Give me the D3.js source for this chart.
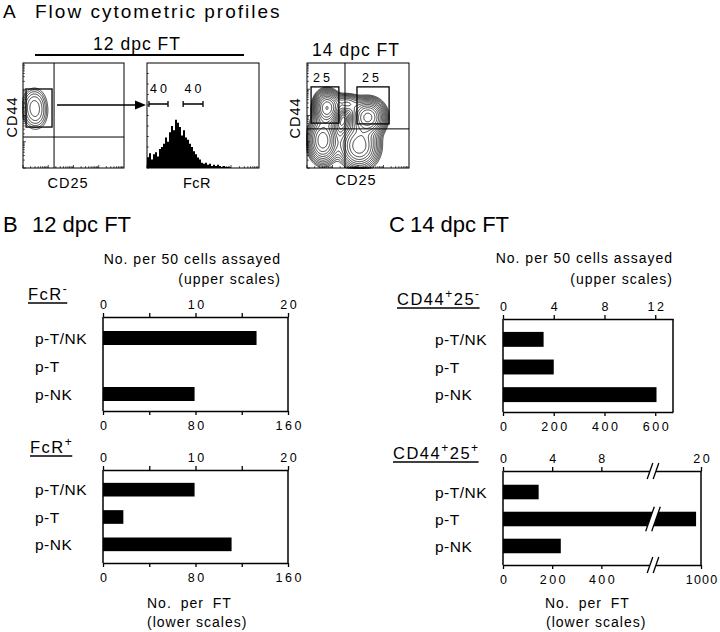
<!DOCTYPE html>
<html><head><meta charset="utf-8">
<script src="https://cdn.jsdelivr.net/npm/d3@7"></script>
<style>
body{margin:0;background:#fff;}
svg text{font-family:"Liberation Sans",Arial,Helvetica,sans-serif;fill:#000;}
</style></head><body>
<svg id="fig" width="720" height="632" xmlns="http://www.w3.org/2000/svg"></svg>
<script>
// ---------------- DATA ----------------
const categories = ["p-T/NK", "p-T", "p-NK"];
// values in "No. per 50 cells assayed" (upper scales)
const fcrNegValues = [16.6, 0, 9.9];
const fcrPosValues = [9.9, 2.2, 13.9];
const cd44p25nValues = [3.2, 4.0, 12.1];
const cd44p25pValues = [2.9, 19.2, 4.7];

const bUpperTicks = [0, 5, 10, 15, 20];
const bUpperLabels = [0, 10, 20];
const bLowerTicks = [0, 40, 80, 120, 160];
const bLowerLabels = [0, 80, 160];
const c1UpperTicks = [0, 4, 8, 12];
const c1LowerTicks = [0, 200, 400, 600];
const c2UpperTicks = [0, 4, 8, 20];
const c2LowerTicks = [0, 200, 400, 1000];
const c2BreakValue = 12.2;

// FcR histogram of CD44+25- cells at 12 dpc (56 bins over 4 log decades)
const fcrHistCounts = [10, 14, 8, 13, 15, 11, 18, 20, 23, 29, 25, 34, 40, 36, 46, 43,
  39, 31, 36, 29, 27, 23, 20, 16, 13, 10, 8, 5, 4, 5, 3, 4, 2, 3, 2, 3,
  2, 1, 2, 1, 1, 0.5, 0, 0, 0, 0, 0, 0, 0, 0, 0, 0, 0, 0, 0, 0];
const fcrGateBrackets = [[0.07, 0.75], [1.29, 2.0]];
const fcrGateLabels = ["40", "40"];

// contour populations (log decades, CD25 x, CD44 y)
const pop12x = [0.45, 0.5];
const pop12y = [2.38, 2.0];
const pop12sx = [0.23, 0.23];
const pop12sy = [0.31, 0.28];
const pop12w = [1, 0.5];
const gate12 = [[0.12, 1.15], [1.56, 3.01]];
const quad12 = [1.23, 1.18];

const pop14x = [0.78, 0.62, 2.39, 2.05, 1.55];
const pop14y = [2.29, 1.05, 1.94, 0.85, 2.45];
const pop14sx = [0.25, 0.3, 0.33, 0.4, 0.3];
const pop14sy = [0.32, 0.45, 0.33, 0.45, 0.2];
const pop14w = [1, 0.6, 1.1, 0.6, 0.3];
const gates14 = [[[0.16, 1.25], [1.71, 3.09]], [[1.96, 3.22], [1.68, 3.09]]];
const gate14Labels = ["25", "25"];
const quad14 = [1.49, 1.49];

// ---------------- DRAW ----------------
const svg = d3.select("#fig");

function txt(g, x, y, s, o = {}) {
  const t = g.append("text").attr("x", x).attr("y", y).text(s)
    .attr("font-size", o.size || 14)
    .attr("text-anchor", o.anchor || "start");
  if (o.ls) t.attr("letter-spacing", o.ls);
  if (o.ws) t.attr("word-spacing", o.ws);
  return t;
}

// Titles
txt(svg, 3, 18, "A", {size: 19});
txt(svg, 35, 18, "Flow cytometric profiles", {size: 19, ls: 2});
txt(svg, 3, 232, "B", {size: 22});
txt(svg, 32, 232, "12 dpc FT", {size: 22});
txt(svg, 389, 232, "C", {size: 22});
txt(svg, 410, 232, "14 dpc FT", {size: 22});

// ----- Panel A -----
txt(svg, 137, 50, "12 dpc FT", {size: 17.5, ls: 1, anchor: "middle"});
svg.append("line").attr("x1", 35).attr("x2", 244).attr("y1", 55).attr("y2", 55)
  .attr("stroke", "#000").attr("stroke-width", 2);

function frame(g, xs, ys, logY) {
  const [x0, x1] = xs.range(), [y1, y0] = ys.range();
  g.append("rect").attr("x", x0).attr("y", y0).attr("width", x1 - x0).attr("height", y1 - y0)
    .attr("fill", "none").attr("stroke", "#000").attr("stroke-width", 1);
  const lt = [];
  for (let d = 0; d < 4; d++) for (let k = 1; k <= 9; k++) lt.push({v: d + Math.log10(k), major: k === 1});
  g.selectAll(null).data(lt).join("line")
    .attr("x1", d => xs(d.v)).attr("x2", d => xs(d.v))
    .attr("y1", y1).attr("y2", d => y1 - (d.major ? 3 : 1.8))
    .attr("stroke", "#000").attr("stroke-width", 0.7);
  const yt = logY ? lt : d3.range(0, 100, 10).map(v => ({v, major: false}));
  g.selectAll(null).data(yt).join("line")
    .attr("y1", d => ys(d.v)).attr("y2", d => ys(d.v))
    .attr("x1", x0).attr("x2", d => x0 + (d.major ? 3 : 1.8))
    .attr("stroke", "#000").attr("stroke-width", 0.7);
}

function contours(g, xs, ys, px, py, psx, psy, pw, nLevels, base, ratio) {
  const [x0, x1] = xs.range(), [y1, y0] = ys.range();
  const w = Math.round(x1 - x0), h = Math.round(y1 - y0);
  const vals = new Float64Array(w * h);
  for (let j = 0; j < h; j++) for (let i = 0; i < w; i++) {
    const dx = xs.invert(x0 + i + 0.5), dy = ys.invert(y0 + j + 0.5);
    let v = 0;
    for (let k = 0; k < px.length; k++) {
      v += pw[k] * Math.exp(-0.5 * (((dx - px[k]) / psx[k]) ** 2 + ((dy - py[k]) / psy[k]) ** 2));
    }
    vals[j * w + i] = v;
  }
  const mx = d3.max(vals);
  const th = d3.range(nLevels).map(k => mx * base * Math.pow(ratio, k));
  const cs = d3.contours().size([w, h]).thresholds(th)(vals);
  const path = d3.geoPath(d3.geoIdentity().translate([x0, y0]));
  g.selectAll(null).data(cs).join("path").attr("d", path)
    .attr("fill", "none").attr("stroke", "#000").attr("stroke-width", 0.75);
}

// Plot 1: CD44 vs CD25, 12 dpc
{
  const g = svg.append("g");
  const xs = d3.scaleLinear().domain([0, 4]).range([23, 124]);
  const ys = d3.scaleLinear().domain([0, 4]).range([168, 63]);
  contours(g, xs, ys, pop12x, pop12y, pop12sx, pop12sy, pop12w, 6, 0.08, 1.55);
  frame(g, xs, ys, true);
  g.append("line").attr("x1", xs(quad12[0])).attr("x2", xs(quad12[0])).attr("y1", 63).attr("y2", 168).attr("stroke", "#000");
  g.append("line").attr("x1", 23).attr("x2", 124).attr("y1", ys(quad12[1])).attr("y2", ys(quad12[1])).attr("stroke", "#000");
  g.append("rect").attr("x", xs(gate12[0][0])).attr("y", ys(gate12[1][1]))
    .attr("width", xs(gate12[0][1]) - xs(gate12[0][0])).attr("height", ys(gate12[1][0]) - ys(gate12[1][1]))
    .attr("fill", "none").attr("stroke", "#000").attr("stroke-width", 1.3);
  txt(g, 68, 188, "CD25", {size: 14.5, ls: 1, anchor: "middle"});
  txt(g, 0, 0, "CD44", {size: 14.5, ls: 1, anchor: "middle"}).attr("transform", "translate(17,117) rotate(-90)");
  // arrow
  g.append("line").attr("x1", 57).attr("x2", 137).attr("y1", 105).attr("y2", 105).attr("stroke", "#000").attr("stroke-width", 1.5);
  g.append("path").attr("d", "M146,105 L135,100.5 L135,109.5 Z").attr("fill", "#000");
}

// Plot 2: FcR histogram
{
  const g = svg.append("g");
  const xs = d3.scaleLinear().domain([0, 4]).range([147, 259]);
  const ys = d3.scaleLinear().domain([0, 100]).range([168, 63]);
  const bw = 4 / fcrHistCounts.length;
  const pts = fcrHistCounts.map((c, i) => ({x: i * bw, c}));
  pts.push({x: 4, c: 0});
  g.append("path").datum(pts)
    .attr("d", d3.area().x(d => xs(d.x)).y0(ys(0)).y1(d => ys(d.c)).curve(d3.curveStepAfter))
    .attr("fill", "#000");
  frame(g, xs, ys, false);
  fcrGateBrackets.forEach((b, i) => {
    const a = xs(b[0]), c = xs(b[1]), y = 104;
    g.append("path").attr("d", `M${a},${y - 3}V${y + 3}M${a},${y}H${c}M${c},${y - 3}V${y + 3}`)
      .attr("stroke", "#000").attr("stroke-width", 1.3).attr("fill", "none");
    txt(g, (a + c) / 2 + 1.5, 93, fcrGateLabels[i], {size: 12.5, ls: 3, anchor: "middle"});
  });
  txt(g, 197, 188, "FcR", {size: 14.5, ls: 0.5, anchor: "middle"});
}

// Plot 3: CD44 vs CD25, 14 dpc
{
  const g = svg.append("g");
  const xs = d3.scaleLinear().domain([0, 4]).range([307, 409]);
  const ys = d3.scaleLinear().domain([0, 4]).range([168, 63]);
  contours(g, xs, ys, pop14x, pop14y, pop14sx, pop14sy, pop14w, 14, 0.04, 1.27);
  frame(g, xs, ys, true);
  g.append("line").attr("x1", xs(quad14[0])).attr("x2", xs(quad14[0])).attr("y1", 63).attr("y2", 168).attr("stroke", "#000");
  g.append("line").attr("x1", 307).attr("x2", 409).attr("y1", ys(quad14[1])).attr("y2", ys(quad14[1])).attr("stroke", "#000");
  gates14.forEach((gt, i) => {
    g.append("rect").attr("x", xs(gt[0][0])).attr("y", ys(gt[1][1]))
      .attr("width", xs(gt[0][1]) - xs(gt[0][0])).attr("height", ys(gt[1][0]) - ys(gt[1][1]))
      .attr("fill", "none").attr("stroke", "#000").attr("stroke-width", 1.3);
  });
  txt(g, 323, 82, gate14Labels[0], {size: 12.5, ls: 3, anchor: "middle"});
  txt(g, 372, 82, gate14Labels[1], {size: 12.5, ls: 3, anchor: "middle"});
  txt(g, 356, 56, "14 dpc FT", {size: 17.5, ls: 1, anchor: "middle"});
  txt(g, 356, 185, "CD25", {size: 14.5, ls: 1, anchor: "middle"});
  txt(g, 0, 0, "CD44", {size: 14.5, ls: 1, anchor: "middle"}).attr("transform", "translate(300,118) rotate(-90)");
}

// ----- Bar charts -----
function barChart(cfg) {
  const g = svg.append("g");
  const up = cfg.upper, lo = cfg.lower;
  const [xl, xr] = [up.range()[0], up.range()[up.range().length - 1]];
  const y = d3.scaleBand().domain(categories).range(cfg.band).paddingInner(cfg.pi || 0.5).paddingOuter(0.25);
  g.selectAll(null).data(cfg.values.map((v, i) => ({c: categories[i], v}))).join("rect")
    .attr("x", up(0)).attr("y", d => y(d.c))
    .attr("width", d => up(d.v) - up(0)).attr("height", y.bandwidth()).attr("fill", "#000");

  const styleAxis = a => {
    a.attr("font-family", null).attr("font-size", null);
    a.select(".domain").attr("stroke-width", 1.5);
    a.selectAll(".tick line").attr("stroke-width", 1.3);
    a.selectAll(".tick text").attr("font-size", 12.5)
      .attr("letter-spacing", function () { return this.textContent.length > 3 ? 1.2 : 2.5; })
      .attr("dx", function () { return this.textContent.length > 3 ? 0.6 : 1.2; });
  };
  const ta = g.append("g").attr("transform", `translate(0,${cfg.top})`)
    .call(d3.axisTop(up).tickValues(cfg.upTicks).tickSize(4).tickSizeOuter(0).tickPadding(4)
      .tickFormat(d => cfg.upLabels.includes(d) ? d : ""));
  styleAxis(ta);
  const ba = g.append("g").attr("transform", `translate(0,${cfg.bottom})`)
    .call(d3.axisBottom(lo).tickValues(cfg.loTicks).tickSize(4).tickSizeOuter(0).tickPadding(6)
      .tickFormat(d => cfg.loLabels.includes(d) ? d : ""));
  styleAxis(ba);
  g.append("line").attr("x1", xl).attr("x2", xl).attr("y1", cfg.top).attr("y2", cfg.bottom).attr("stroke", "#000").attr("stroke-width", 1.5);
  g.append("line").attr("x1", xr).attr("x2", xr).attr("y1", cfg.top).attr("y2", cfg.bottom).attr("stroke", "#000").attr("stroke-width", 1.5);

  g.selectAll(null).data(categories).join("text")
    .attr("x", cfg.labelX).attr("y", d => y(d) + y.bandwidth() / 2).attr("dy", "0.36em")
    .attr("font-size", 15.5).attr("letter-spacing", 0.5).text(d => d);

  // group label with superscripts, underlined
  const t = g.append("text").attr("x", cfg.groupX).attr("y", cfg.groupY).attr("font-size", 16.5).attr("letter-spacing", 1.5);
  cfg.group.forEach(([s, sup], i) => {
    const ts = t.append("tspan").text(s);
    if (sup) ts.attr("font-size", 12).attr("dy", -7);
    else if (i > 0 && cfg.group[i - 1][1]) ts.attr("dy", 7);
  });
  const bb = t.node().getBBox();
  g.append("line").attr("x1", cfg.groupX).attr("x2", cfg.groupX + bb.width - 1)
    .attr("y1", cfg.groupY + 3).attr("y2", cfg.groupY + 3).attr("stroke", "#000").attr("stroke-width", 1.3);

  if (cfg.breakAt !== undefined) {
    const bx = up(cfg.breakAt);
    const drawBreak = (cy, half) => {
      const s = 3, k = 0.35 * half;
      g.append("path").attr("d", `M${bx - k - s},${cy + half}L${bx + k - s},${cy - half}L${bx + k + s},${cy - half}L${bx - k + s},${cy + half}Z`)
        .attr("fill", "#fff");
      [-s, s].forEach(o => g.append("line")
        .attr("x1", bx - k + o).attr("y1", cy + half).attr("x2", bx + k + o).attr("y2", cy - half)
        .attr("stroke", "#000").attr("stroke-width", 1.3));
    };
    drawBreak(cfg.top, 8);
    drawBreak(cfg.bottom, 8);
    cfg.values.forEach((v, i) => {
      if (v > cfg.breakAt) drawBreak(y(categories[i]) + y.bandwidth() / 2, y.bandwidth() / 2 + 5);
    });
  }
  return g;
}

// B: FcR-
barChart({
  upper: d3.scaleLinear().domain([0, 20]).range([103, 288]),
  lower: d3.scaleLinear().domain([0, 160]).range([103, 288]),
  top: 317, bottom: 411, band: [324, 408], values: fcrNegValues,
  upTicks: bUpperTicks, upLabels: bUpperLabels, loTicks: bLowerTicks, loLabels: bLowerLabels,
  labelX: 35, groupX: 28, groupY: 300, group: [["FcR", false], ["-", true]]
});
// B: FcR+
barChart({
  upper: d3.scaleLinear().domain([0, 20]).range([103, 288]),
  lower: d3.scaleLinear().domain([0, 160]).range([103, 288]),
  top: 470, bottom: 563, band: [476, 558], values: fcrPosValues,
  upTicks: bUpperTicks, upLabels: bUpperLabels, loTicks: bLowerTicks, loLabels: bLowerLabels,
  labelX: 35, groupX: 30, groupY: 453, group: [["FcR", false], ["+", true]]
});
// C: CD44+25-
barChart({
  upper: d3.scaleLinear().domain([0, 13.4]).range([503, 673]),
  lower: d3.scaleLinear().domain([0, 670]).range([503, 673]),
  top: 319, bottom: 412, band: [325, 409], pi: 0.46, values: cd44p25nValues,
  upTicks: c1UpperTicks, upLabels: c1UpperTicks, loTicks: c1LowerTicks, loLabels: c1LowerTicks,
  labelX: 435, groupX: 397, groupY: 305, group: [["CD44", false], ["+", true], ["25", false], ["-", true]]
});
// C: CD44+25+
barChart({
  upper: d3.scaleLinear().domain([0, c2BreakValue, 20]).range([503, 653, 701]),
  lower: d3.scaleLinear().domain([0, c2BreakValue * 50, 1000]).range([503, 653, 701]),
  top: 471, bottom: 565, band: [478, 560], pi: 0.46, values: cd44p25pValues,
  upTicks: c2UpperTicks, upLabels: c2UpperTicks, loTicks: c2LowerTicks, loLabels: c2LowerTicks,
  labelX: 435, groupX: 393, groupY: 459, group: [["CD44", false], ["+", true], ["25", false], ["+", true]],
  breakAt: c2BreakValue
});

// axis titles
txt(svg, 281, 264, "No. per 50 cells assayed", {size: 14, ls: 1, anchor: "end"});
txt(svg, 281, 284, "(upper scales)", {size: 14, ls: 1, anchor: "end"});
txt(svg, 673, 263, "No. per 50 cells assayed", {size: 14, ls: 1, anchor: "end"});
txt(svg, 673, 284, "(upper scales)", {size: 14, ls: 1, anchor: "end"});
txt(svg, 147, 608, "No. per FT", {size: 14, ls: 1, ws: 4});
txt(svg, 147, 627, "(lower scales)", {size: 14, ls: 1});
txt(svg, 545, 608, "No. per FT", {size: 14, ls: 1, ws: 4});
txt(svg, 546, 627, "(lower scales)", {size: 14, ls: 1});
</script>
</body></html>
